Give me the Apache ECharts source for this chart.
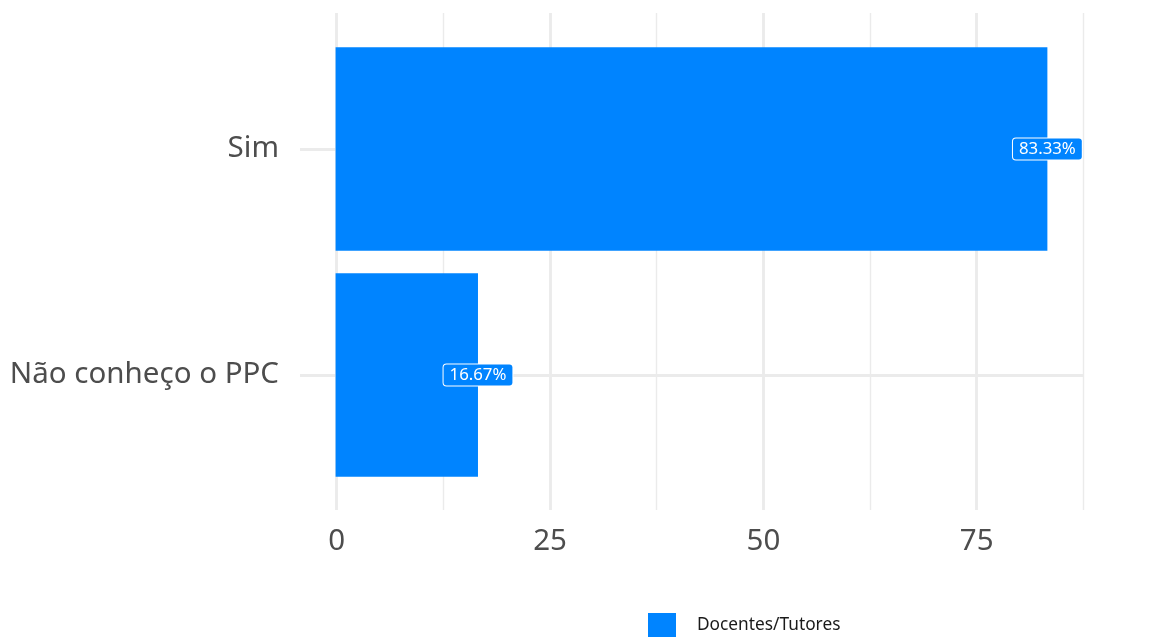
<!DOCTYPE html>
<html>
<head>
<meta charset="utf-8">
<script src="https://cdn.jsdelivr.net/npm/echarts@6/dist/echarts.min.js"></script>
<style>html,body{margin:0;padding:0;background:#fff}#c{width:1160px;height:637px}</style>
</head>
<body>
<div id="c"></div>
<script>
const categories = ['Não conheço o PPC', 'Sim'];
const seriesName = 'Docentes/Tutores';
const values = [16.67, 83.33];
const xTicks = [0, 25, 50, 75];

const FONT = 'Noto Sans';
const GRID_COLOR = '#EBEBEB';
const BAR_COLOR = '#0084FF';
const X_MIN = -4.1667, X_MAX = 87.5;

const chart = echarts.init(document.getElementById('c'));
chart.setOption({
  animation: false,
  textStyle: { fontFamily: FONT },
  grid: [
    { left: 300, right: 77, top: 149, height: 226 },
    { left: 336.7, right: 77, top: 13, height: 497 },
    { left: 336.7, width: 75 * (746.7 / 87.5), top: 13, height: 497 }
  ],
  xAxis: [
    { gridIndex: 0, type: 'value', min: X_MIN, max: X_MAX, show: false, splitLine: { show: false } },
    { gridIndex: 1, type: 'value', min: 0, max: X_MAX, interval: 12.5,
      axisLine: { show: false }, axisTick: { show: false }, axisLabel: { show: false },
      splitLine: { show: true, lineStyle: { color: GRID_COLOR, width: 1.4 } } },
    { gridIndex: 2, type: 'value', min: xTicks[0], max: xTicks[xTicks.length - 1], interval: 25,
      axisLine: { show: false }, axisTick: { show: false },
      axisLabel: { show: true, fontSize: 29.5, color: '#4D4D4D', margin: 17, fontFamily: FONT },
      splitLine: { show: true, lineStyle: { color: GRID_COLOR, width: 2.8 } } }
  ],
  yAxis: [
    { gridIndex: 0, type: 'category', data: categories, boundaryGap: false,
      axisLine: { show: false }, axisTick: { show: false },
      axisLabel: { fontSize: 29.5, color: '#4D4D4D', margin: 21, fontFamily: FONT, padding: [6, 0, 0, 0] },
      splitLine: { show: true, lineStyle: { color: GRID_COLOR, width: 2.8 } } },
    { gridIndex: 1, type: 'value', show: false, splitLine: { show: false } },
    { gridIndex: 2, type: 'value', show: false, splitLine: { show: false } }
  ],
  legend: {
    top: 613, left: 648, padding: 0,
    itemWidth: 28, itemHeight: 24, icon: 'rect',
    textStyle: { fontSize: 17.3, color: '#1A1A1A', padding: [4, 0, 0, 16], fontFamily: FONT },
    data: [seriesName]
  },
  series: [{
    name: seriesName,
    type: 'bar',
    xAxisIndex: 0, yAxisIndex: 0,
    data: values,
    barWidth: '90%',
    clip: false,
    z: 3,
    itemStyle: { color: BAR_COLOR },
    label: {
      show: true,
      position: ['100%', '50%'],
      align: 'center', verticalAlign: 'middle',
      formatter: p => p.value.toFixed(2) + '%',
      color: '#fff', fontSize: 16.8, lineHeight: 17, fontFamily: FONT,
      backgroundColor: BAR_COLOR, borderColor: '#fff', borderWidth: 1, borderRadius: 3,
      padding: [2, 6, 2, 6]
    }
  }]
});
</script>
</body>
</html>
